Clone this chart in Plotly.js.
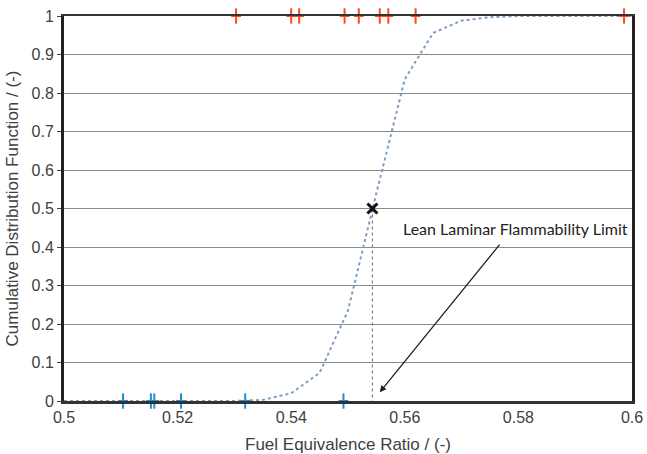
<!DOCTYPE html>
<html>
<head>
<meta charset="utf-8">
<script src="https://cdn.plot.ly/plotly-3.0.1.min.js"></script>
<style>html,body{margin:0;padding:0;background:#fff;}#chart{width:647px;height:454px;}</style>
</head>
<body>
<div id="chart"></div>
<script>
// CDF curve
const cdfX = [0.5, 0.53, 0.535, 0.54, 0.545, 0.55, 0.555, 0.56, 0.565, 0.57, 0.575, 0.58, 0.6];
const cdfY = [0, 0, 0.003, 0.02, 0.073, 0.235, 0.54, 0.836, 0.956, 0.988, 0.997, 1, 1];
// Flammable cases (at CDF = 1)
const flamX = [0.5303, 0.5400, 0.5414, 0.5494, 0.5519, 0.5556, 0.5571, 0.5619, 0.5986];
const flamY = [1, 1, 1, 1, 1, 1, 1, 1, 1];
// Non-flammable cases (at CDF = 0)
const nonX = [0.5104, 0.5153, 0.5159, 0.5206, 0.5319, 0.5492];
const nonY = [0, 0, 0, 0, 0, 0];
// 50% point: lean laminar flammability limit
const limitX = [0.5543];
const limitY = [0.5];
const limitLabel = 'Lean Laminar Flammability Limit';
const xTicks = [0.5, 0.52, 0.54, 0.56, 0.58, 0.6];
const xTickText = ['0.5', '0.52', '0.54', '0.56', '0.58', '0.6'];
const yTicks = [0, 0.1, 0.2, 0.3, 0.4, 0.5, 0.6, 0.7, 0.8, 0.9, 1];
const yTickText = ['0', '0.1', '0.2', '0.3', '0.4', '0.5', '0.6', '0.7', '0.8', '0.9', '1'];

const RED = '#fb4a1e', BLUE = '#1e8fd6';
function tick(xs, ys, color) {
  return [
    {x: xs, y: ys, mode: 'markers', cliponaxis: false, hoverinfo: 'skip',
     marker: {symbol: 'line-ns', size: 11, line: {color: color, width: 2}}},
    {x: xs, y: ys, mode: 'markers', cliponaxis: false, hoverinfo: 'skip',
     marker: {symbol: 'line-ew', size: 7, line: {color: color, width: 2}}}
  ];
}

const traces = [
  {x: cdfX, y: cdfY, mode: 'lines', line: {color: '#7f9dbd', width: 2, dash: 'dot'}, cliponaxis: false, hoverinfo: 'skip'},
  {x: [limitX[0], limitX[0]], y: [limitY[0], 0], mode: 'lines', line: {color: '#808080', width: 1.2, dash: 'dot'}, hoverinfo: 'skip'},
  ...tick(flamX, flamY, RED),
  ...tick(nonX, nonY, BLUE),
  {x: limitX, y: limitY, mode: 'markers', cliponaxis: false,
   marker: {symbol: 'x-thin', size: 10, line: {color: '#111', width: 3}}}
];

const font = {family: '"Liberation Sans", Arial, sans-serif', size: 16, color: '#404040'};
const titleFont = {family: '"Liberation Sans", Arial, sans-serif', size: 17, color: '#404040'};

const layout = {
  width: 647, height: 454,
  margin: {l: 64, r: 15, t: 16, b: 53},
  paper_bgcolor: '#fff', plot_bgcolor: '#fff',
  showlegend: false,
  font: font,
  xaxis: {
    range: [0.5, 0.6], tickvals: xTicks, ticktext: xTickText,
    showgrid: false, zeroline: false,
    showline: true, linecolor: '#333', linewidth: 2.5, mirror: true,
    ticks: '', tickfont: font,
    title: {text: 'Fuel Equivalence Ratio / (-)', font: titleFont, standoff: 15}
  },
  yaxis: {
    range: [0, 1], tickvals: yTicks, ticktext: yTickText,
    showgrid: true, gridcolor: '#8a8a8a', gridwidth: 1, zeroline: false,
    showline: true, linecolor: '#222', linewidth: 3, mirror: true,
    ticks: 'outside', ticklen: 4, tickcolor: '#444', tickfont: font,
    title: {text: 'Cumulative Distribution Function / (-)', font: titleFont, standoff: 9}
  },
  annotations: [
    {x: 0.5795, y: 0.447, xref: 'x', yref: 'y', text: limitLabel, showarrow: false,
     font: {family: 'Lato, "Open Sans", sans-serif', size: 16, color: '#222'}},
    {x: 0.5556, y: 0.023, xref: 'x', yref: 'y', ax: 0.5769, ay: 0.41, axref: 'x', ayref: 'y',
     text: '', showarrow: true, arrowhead: 2, arrowsize: 1, arrowwidth: 1.3, arrowcolor: '#222'}
  ]
};

Plotly.newPlot('chart', traces, layout, {displayModeBar: false, staticPlot: true});
</script>
</body>
</html>
